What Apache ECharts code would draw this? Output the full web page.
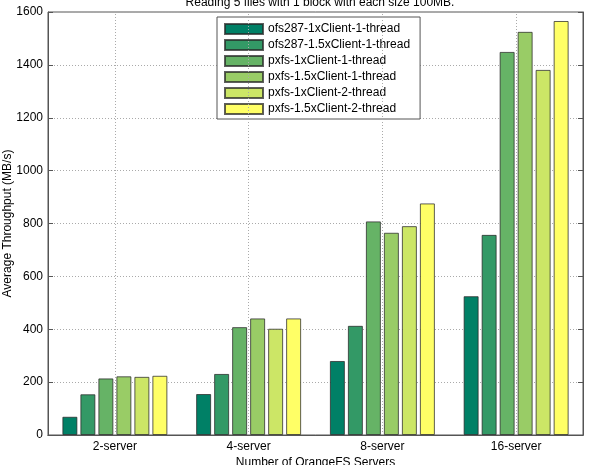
<!DOCTYPE html>
<html>
<head>
<meta charset="utf-8">
<script src="https://cdn.jsdelivr.net/npm/echarts@6/dist/echarts.min.js"></script>
<style>html,body{margin:0;padding:0;background:#fff;}#c{width:589px;height:465px;}</style>
</head>
<body>
<div id="c"></div>
<script>
var categories = ['2-server', '4-server', '8-server', '16-server'];
var seriesNames = ['ofs287-1xClient-1-thread', 'ofs287-1.5xClient-1-thread', 'pxfs-1xClient-1-thread', 'pxfs-1.5xClient-1-thread', 'pxfs-1xClient-2-thread', 'pxfs-1.5xClient-2-thread'];
var ofs1x1t = [69, 155, 280, 525];
var ofs15x1t = [154, 231, 413, 757];
var pxfs1x1t = [214, 408, 808, 1449];
var pxfs15x1t = [222, 441, 765, 1525];
var pxfs1x2t = [220, 402, 790, 1381];
var pxfs15x2t = [224, 441, 876, 1566];
var yTicks = [0, 200, 400, 600, 800, 1000, 1200, 1400, 1600];
var colors = ['rgb(0,128,102)', 'rgb(51,153,102)', 'rgb(102,179,102)', 'rgb(153,204,102)', 'rgb(204,230,102)', 'rgb(255,255,102)'];
var values = [ofs1x1t, ofs15x1t, pxfs1x1t, pxfs15x1t, pxfs1x2t, pxfs15x2t];

var FONT = "'Liberation Sans', Arial, Helvetica, sans-serif";
var chart = echarts.init(document.getElementById('c'));

var series = seriesNames.map(function (n, i) {
  return {
    name: n, type: 'bar', data: values[i], barWidth: 15, barGap: '20%', z: 3,
    itemStyle: { color: colors[i], borderColor: 'rgba(40,40,40,0.75)', borderWidth: 1, borderRadius: 0 }
  };
});
series.push({
  name: '_grid', type: 'line', data: [], z: 1, silent: true,
  markLine: {
    silent: true, symbol: 'none', label: { show: false },
    lineStyle: { color: '#aaa', type: [1, 2], width: 1 },
    data: categories.map(function (c) { return { xAxis: c }; })
  }
});

chart.setOption({
  animation: false,
  textStyle: { fontFamily: FONT },
  title: {
    text: 'Reading 5 files with 1 block with each size 100MB.',
    left: 315, textAlign: 'center', top: -8,
    textStyle: { fontSize: 12, fontWeight: 'normal', color: '#000', fontFamily: FONT }
  },
  grid: { left: 48, right: 6, top: 12, bottom: 30, outerBoundsMode: 'none', containLabel: false, show: true, borderColor: '#555', borderWidth: 1, backgroundColor: 'transparent' },
  legend: {
    data: seriesNames, orient: 'vertical', left: 217, top: 17, icon: 'rect',
    padding: [6, 10, 4, 7], itemWidth: 38, itemHeight: 10, itemGap: 4,
    borderColor: '#555', borderWidth: 1, backgroundColor: '#fff',
    textStyle: { fontSize: 12, color: '#000', fontFamily: FONT }
  },
  xAxis: [{
    type: 'category', data: categories, position: 'bottom',
    axisLine: { lineStyle: { color: '#555' } },
    axisTick: { alignWithLabel: true, inside: true, length: 5, lineStyle: { color: '#555' } },
    axisLabel: { fontSize: 12, color: '#000', margin: 6, fontFamily: FONT },
    name: 'Number of OrangeFS Servers', nameLocation: 'middle', nameGap: 22, nameMoveOverlap: false,
    nameTextStyle: { fontSize: 12, color: '#000', fontFamily: FONT },
    splitLine: { show: false }
  }, {
    type: 'category', data: categories, position: 'top',
    axisLine: { lineStyle: { color: '#555' } },
    axisTick: { alignWithLabel: true, inside: true, length: 5, lineStyle: { color: '#555' } },
    axisLabel: { show: false }, splitLine: { show: false }
  }],
  yAxis: [{
    type: 'value', min: yTicks[0], max: yTicks[yTicks.length - 1], interval: 200, position: 'left',
    axisLine: { show: true, lineStyle: { color: '#555' } },
    axisTick: { show: true, inside: true, length: 5, lineStyle: { color: '#555' } },
    axisLabel: { fontSize: 12, color: '#000', margin: 5, fontFamily: FONT, formatter: function (v) { return String(v); } },
    splitLine: { show: true, lineStyle: { color: '#aaa', type: [1, 2] } },
    name: 'Average Throughput (MB/s)', nameLocation: 'middle', nameGap: 34, nameMoveOverlap: false,
    nameTextStyle: { fontSize: 12, color: '#000', fontFamily: FONT }
  }, {
    type: 'value', min: yTicks[0], max: yTicks[yTicks.length - 1], interval: 200, position: 'right',
    axisLine: { show: true, lineStyle: { color: '#555' } },
    axisTick: { show: true, inside: true, length: 5, lineStyle: { color: '#555' } },
    axisLabel: { show: false }, splitLine: { show: false }
  }],
  series: series
});
</script>
</body>
</html>
